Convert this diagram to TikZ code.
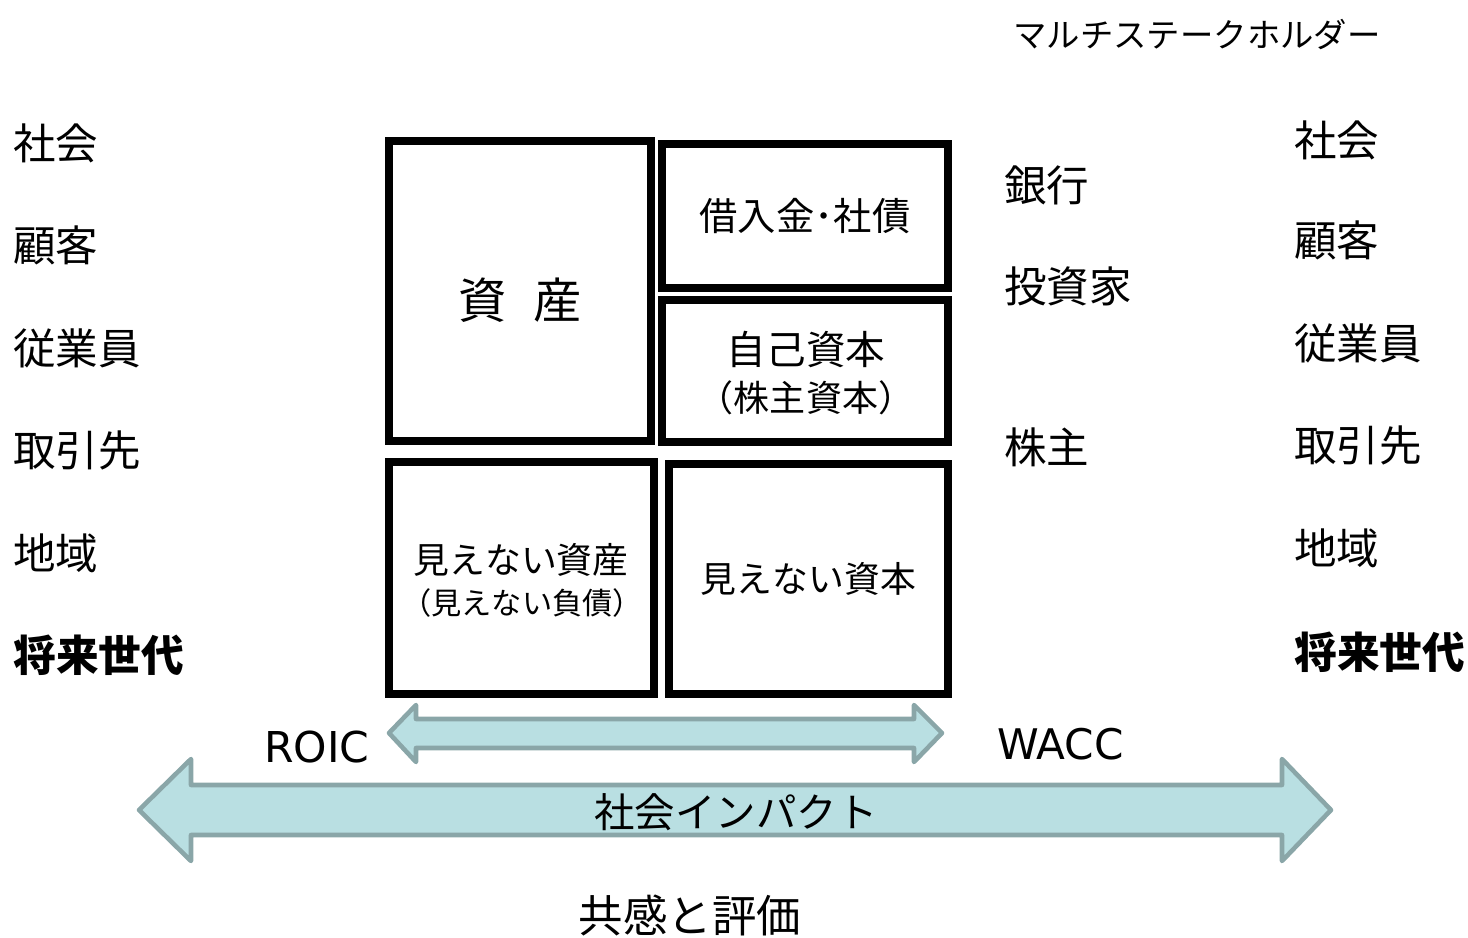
\documentclass[tikz,border=0pt]{standalone}
\usepackage{fontspec}
\setmainfont{Noto Sans CJK JP}
\newfontfamily\latinfont{DejaVu Sans}
\usetikzlibrary{positioning}
\tikzset{
  box/.style={draw=black, line width=4pt, inner sep=0pt},
  fatarrow/.style={draw=arrowline, fill=arrowfill, line width=2.6pt, line join=round},
  lbl/.style={anchor=west, inner sep=0pt},
  txt/.style={inner sep=0pt},
}
\definecolor{arrowline}{HTML}{8AA6A8}
\definecolor{arrowfill}{HTML}{B9DFE2}
\newcommand{\szA}{\fontsize{24.2}{29}\selectfont}
\newcommand{\szB}{\fontsize{20.4}{24}\selectfont}
\newcommand{\szT}{\fontsize{19}{22}\selectfont}
\begin{document}
\begin{tikzpicture}[x=0.02cm,y=-0.02cm]
\useasboundingbox (0,0) rectangle (1468,937);
% arrows
\draw[fatarrow] (139,810) -- (191,759) -- (191,785) -- (1282,785) -- (1282,759) -- (1331,810) -- (1282,861) -- (1282,835) -- (191,835) -- (191,861) -- cycle;
\draw[fatarrow] (389,733) -- (416,705) -- (416,719) -- (914,719) -- (914,705) -- (942,733) -- (914,762) -- (914,748) -- (416,748) -- (416,762) -- cycle;
% boxes
\node[box, minimum width=262*0.02cm, minimum height=300*0.02cm] (asset) at (520,291) {};
\node[txt] (assettext) at (520,300) {\fontsize{27.5}{32}\selectfont 資\hspace{0.55em}産};
\node[box, minimum width=286*0.02cm, minimum height=144*0.02cm] (debt) at (805,216) {\fontsize{21.8}{26}\selectfont 借入金･社債};
\node[box, minimum width=286*0.02cm, minimum height=142*0.02cm] (equity) at (805,371) {};
\node[txt] (equity1) at (806,349) {\fontsize{22.5}{27}\selectfont 自己資本};
\node[txt] (equity2) at (806,398) {\fontsize{20.5}{24}\selectfont （株主資本）};
\node[box, minimum width=265*0.02cm, minimum height=232*0.02cm] (invasset) at (521.5,578) {};
\node[txt] (invasset1) at (521,560) {\szB 見えない資産};
\node[txt] (invasset2) at (522,603) {\fontsize{17.2}{20}\selectfont （見えない負債）};
\node[box, minimum width=279*0.02cm, minimum height=230*0.02cm] (invcap) at (808.5,579) {\szB 見えない資本};
% title
\node[lbl] (title) at (1013,35) {\szT マルチステークホルダー};
% left column
\node[lbl] (l1) at (13,143) {\szA 社会};
\node[lbl] (l2) at (13,245) {\szA 顧客};
\node[lbl] (l3) at (13,348) {\szA 従業員};
\node[lbl] (l4) at (13,450) {\szA 取引先};
\node[lbl] (l5) at (13,553) {\szA 地域};
\node[lbl] (l6) at (13,655) {\fontsize{24.3}{29}\selectfont\bfseries 将来世代};
% right column
\node[lbl] (r1) at (1294,140) {\szA 社会};
\node[lbl] (r2) at (1294,240) {\szA 顧客};
\node[lbl] (r3) at (1294,343) {\szA 従業員};
\node[lbl] (r4) at (1294,445) {\szA 取引先};
\node[lbl] (r5) at (1294,548) {\szA 地域};
\node[lbl] (r6) at (1294,652) {\fontsize{24.3}{29}\selectfont\bfseries 将来世代};
% middle column
\node[lbl] (m1) at (1004,185) {\szA 銀行};
\node[lbl] (m2) at (1004,286) {\szA 投資家};
\node[lbl] (m3) at (1004,447) {\szA 株主};
% bottom
\node[lbl] (roic) at (264,747) {\latinfont\fontsize{24.2}{29}\selectfont ROIC};
\node[lbl] (wacc) at (997,744) {\latinfont\fontsize{24}{29}\selectfont WACC};
\node (impact) at (736,812) {\fontsize{23}{27}\selectfont 社会インパクト};
\node (eval) at (690,915) {\fontsize{25.3}{30}\selectfont 共感と評価};
\end{tikzpicture}
\end{document}
